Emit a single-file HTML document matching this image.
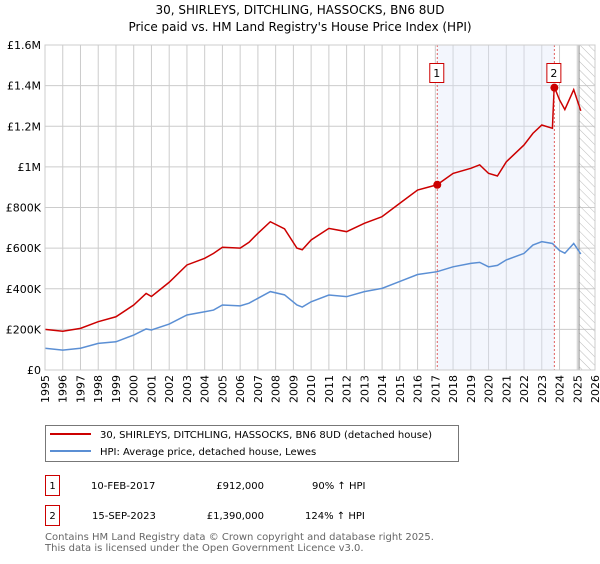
<!DOCTYPE html>
<html><head><meta charset="utf-8"><style>
body{margin:0;background:#fff;width:600px;height:560px;overflow:hidden;font-family:"DejaVu Sans","Liberation Sans",sans-serif}
svg text{font-family:"DejaVu Sans","Liberation Sans",sans-serif}
</style></head><body>
<svg id="chart" width="600" height="560" viewBox="0 0 600 560" xmlns="http://www.w3.org/2000/svg">
<defs><pattern id="hatch" width="6" height="6" patternUnits="userSpaceOnUse" patternTransform="rotate(-45)"><line x1="0" y1="0" x2="0" y2="6" stroke="#bbb" stroke-width="1"/></pattern></defs>
<text x="300" y="14" text-anchor="middle" font-size="12">30, SHIRLEYS, DITCHLING, HASSOCKS, BN6 8UD</text>
<text x="300" y="31" text-anchor="middle" font-size="12">Price paid vs. HM Land Registry's House Price Index (HPI)</text>
<g id="grid"></g><g id="shade"></g><g id="series"></g><g id="axes"></g>
<rect x="45.5" y="425.5" width="413" height="36" fill="#fff" stroke="#777"/>
<line x1="50" y1="434" x2="91" y2="434" stroke="#cc0000" stroke-width="2"/>
<text x="100" y="438" font-size="10">30, SHIRLEYS, DITCHLING, HASSOCKS, BN6 8UD (detached house)</text>
<line x1="50" y1="451" x2="91" y2="451" stroke="#5b8fd4" stroke-width="2"/>
<text x="100" y="455" font-size="10">HPI: Average price, detached house, Lewes</text>
<g font-size="10">
<rect x="45.5" y="475.5" width="14" height="20" fill="#fff" stroke="#cc0000"/><text x="52.5" y="489" text-anchor="middle">1</text>
<text x="91" y="489">10-FEB-2017</text><text x="264" y="489" text-anchor="end">£912,000</text><text x="312" y="489">90% ↑ HPI</text></g>
<g font-size="10">
<rect x="45.5" y="505.5" width="14" height="20" fill="#fff" stroke="#cc0000"/><text x="52.5" y="519" text-anchor="middle">2</text>
<text x="92" y="519">15-SEP-2023</text><text x="264" y="519" text-anchor="end">£1,390,000</text><text x="305" y="519">124% ↑ HPI</text></g>
<text x="45" y="540" font-size="10" fill="#666">Contains HM Land Registry data © Crown copyright and database right 2025.</text>
<text x="45" y="551" font-size="10" fill="#666">This data is licensed under the Open Government Licence v3.0.</text>
</svg>
<script>
const years=[1995,1996,1997,1998,1999,2000,2000.7,2001,2002,2003,2004,2004.5,2005,2006,2006.5,2007,2007.7,2008.5,2009.2,2009.5,2010,2011,2012,2013,2014,2015,2016,2017.1,2018,2019,2019.5,2020,2020.5,2021,2022,2022.5,2023,2023.6,2024,2024.3,2024.8,2025.2];
const hpiValues=[107,98,107,131,139,172,202,197,226,271,287,295,320,316,329,353,386,370,320,310,336,369,361,386,402,436,470,484,508,525,530,508,515,542,574,615,632,623,588,575,623,571];
const redYears=[1995,1996,1997,1998,1999,2000,2000.7,2001,2002,2003,2004,2004.5,2005,2006,2006.5,2007,2007.7,2008.5,2009.2,2009.5,2010,2011,2012,2013,2014,2015,2016,2017.1,2018,2019,2019.5,2020,2020.5,2021,2022,2022.5,2023,2023.6,2023.7,2024,2024.3,2024.8,2025.2];
const redValues=[200,191,205,238,262,320,377,362,432,517,550,574,604,600,629,673,730,695,600,592,640,697,681,722,755,821,886,912,968,993,1010,968,955,1025,1108,1165,1206,1190,1395,1330,1282,1380,1276];
const yTicks=[0,200,400,600,800,1000,1200,1400,1600];
const yTickLabels=["£0","£200K","£400K","£600K","£800K","£1M","£1.2M","£1.4M","£1.6M"];
const xTicks=[1995,1996,1997,1998,1999,2000,2001,2002,2003,2004,2005,2006,2007,2008,2009,2010,2011,2012,2013,2014,2015,2016,2017,2018,2019,2020,2021,2022,2023,2024,2025,2026];
const sales=[[2017.11,912,"1"],[2023.71,1390,"2"]];
const NS="http://www.w3.org/2000/svg";
const L=45,R=595,T=45,B=370;
const x=v=>L+(v-1995)/31*(R-L);
const y=v=>B-v/1600*(B-T);
function mk(p,tag,a){const e=document.createElementNS(NS,tag);for(const k in a)e.setAttribute(k,a[k]);p.appendChild(e);return e;}
const grid=document.getElementById('grid'),shade=document.getElementById('shade'),ser=document.getElementById('series'),ax=document.getElementById('axes');
yTicks.forEach((t,i)=>{
 const ln=mk(grid,'line',{x1:L,x2:R,y1:y(t),y2:y(t),stroke:'#ccc'});
 
 
 const tx=mk(ax,'text',{x:L-4,y:y(t)+4,'text-anchor':'end','font-size':'11'});tx.textContent=yTickLabels[i];
 
 
});
xTicks.forEach(t=>{
 const ln=mk(grid,'line',{x1:x(t),x2:x(t),y1:T,y2:B,stroke:'#ccc'});
 
 
 const tx=mk(ax,'text',{x:0,y:0,'font-size':'11','text-anchor':'end',transform:`translate(${x(t)+4},${B+5}) rotate(-90)`});tx.textContent=t;
 
 
});
const sh=mk(shade,'rect',{x:x(sales[0][0]),y:T,width:x(sales[1][0])-x(sales[0][0]),height:B-T,fill:'#dde6fa','fill-opacity':'0.35'});


const ht=mk(shade,'rect',{x:x(2025.1),y:T,width:R-x(2025.1),height:B-T,fill:'url(#hatch)'});


const fl=mk(shade,'line',{x1:x(2025.1),x2:x(2025.1),y1:T,y2:B,stroke:'#888'});


const border=mk(ax,'rect',{x:L,y:T,width:R-L,height:B-T,fill:'none',stroke:'#ccc'});


const bp=mk(ser,'polyline',{points:years.map((v,i)=>x(v)+','+y(hpiValues[i])).join(' '),fill:'none',stroke:'#5b8fd4','stroke-width':'1.5'});


const rp=mk(ser,'polyline',{points:redYears.map((v,i)=>x(v)+','+y(redValues[i])).join(' '),fill:'none',stroke:'#cc0000','stroke-width':'1.5'});


sales.forEach(s=>{
 const dl=mk(ser,'line',{x1:x(s[0]),x2:x(s[0]),y1:T,y2:B,stroke:'#e06060','stroke-dasharray':'2,2'});
 
 
 const c=mk(ser,'circle',{cx:x(s[0]),cy:y(s[1]),r:4,fill:'#cc0000'});
 
 
 const b=mk(ser,'rect',{x:x(s[0])-7.5,y:63.5,width:14,height:19,fill:'#fff',stroke:'#cc0000'});
 
 
 const t=mk(ser,'text',{x:x(s[0])-0.5,y:77,'text-anchor':'middle','font-size':'11'});t.textContent=s[2];
 
 
});
</script>
</body></html>
